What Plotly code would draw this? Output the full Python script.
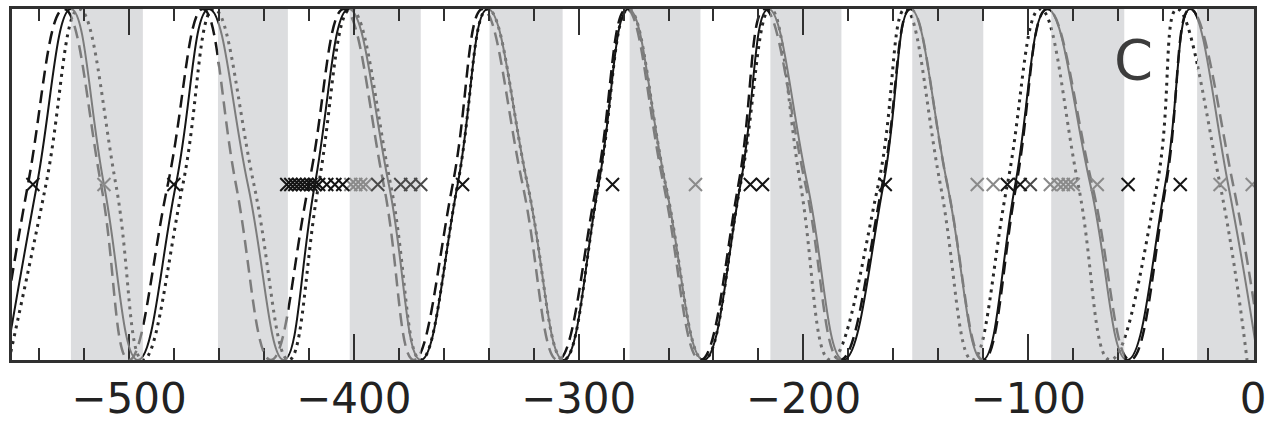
import plotly.graph_objects as go

# ---------------- data ----------------
# Extremum positions (alternating trough / peak) and zero crossings between them
SOLID_EXT_X = [-554.7, -525.8, -496.0, -464.4, -431.1, -402.2, -370.2, -340.4, -306.7,
               -277.8, -244.4, -215.6, -182.2, -152.4, -120.4, -91.6, -56.0, -28.0, 2.2]
SOLID_EXT_Y = [-1, 1, -1, 1, -1, 1, -1, 1, -1, 1, -1, 1, -1, 1, -1, 1, -1, 1, -1]
SOLID_ZERO_X = [-540.9, -511.1, -479.1, -447.1, -417.3, -384.4, -353.8, -322.7, -291.1,
                -261.3, -228.0, -198.2, -164.4, -136.0, -105.8, -72.4, -39.1, -11.1]

DASH_EXT_X = [-557.8, -528.9, -500.0, -467.1, -436.9, -404.4, -373.3, -342.7, -309.3,
              -278.7, -245.8, -217.3, -183.6, -152.4, -120.0, -91.6, -54.7, -28.0, 4.0]
DASH_EXT_Y = [-1, 1, -1, 1, -1, 1, -1, 1, -1, 1, -1, 1, -1, 1, -1, 1, -1, 1, -1]
DASH_ZERO_X = [-544.9, -512.4, -482.7, -452.4, -420.0, -386.7, -356.0, -324.9, -292.0,
               -262.2, -228.9, -199.1, -164.9, -136.0, -105.3, -71.6, -38.7, -8.9]

DOT_EXT_X = [-553.3, -522.2, -493.8, -462.2, -428.9, -401.3, -370.2, -340.4, -306.7,
             -277.8, -244.4, -214.7, -188.0, -154.7, -124.9, -94.7, -63.6, -33.8, -2.7]
DOT_EXT_Y = [-1, 1, -1, 1, -1, 1, -1, 1, -1, 1, -1, 1, -1, 1, -1, 1, -1, 1, -1]
DOT_ZERO_X = [-536.9, -505.8, -476.0, -444.4, -415.6, -383.6, -353.8, -322.7, -291.1,
              -261.3, -228.0, -201.3, -166.7, -139.1, -109.3, -77.8, -42.7, -14.7]

# Shaded (declining-phase) intervals
BAND_START = [-525.8, -460.4, -401.8, -339.6, -277.3, -214.7, -151.6, -89.8, -24.9]
BAND_END = [-493.8, -429.3, -370.2, -307.1, -245.8, -183.1, -120.0, -57.3, 3.0]

# Event markers on the zero line
EVENT_BLACK_X = [-542.7, -480.0, -429.8, -428.0, -426.2, -424.4, -422.7, -420.9, -419.1,
                 -417.3, -415.6, -412.0, -408.4, -404.9, -351.6, -284.9, -223.6, -218.2,
                 -163.6, -109.3, -103.6, -55.6, -32.4]
EVENT_DARK_X = [-389.3, -379.1, -374.7, -370.2, -99.1]
EVENT_GRAY_X = [-511.1, -401.3, -399.1, -396.9, -394.7, -248.0, -122.7, -115.6, -90.2,
                -86.7, -84.4, -82.2, -80.0, -69.3, -14.7, -0.4]

PANEL_LABEL = "C"
X_TICKS = [-500, -400, -300, -200, -100, 0]

# ---------------- styling / layout constants ----------------
XMIN, XMAX = -552.0, 0.4
BLACK = "#151515"
GRAY = "#7c7c7c"
DOT_BLACK = "#262626"
DOT_GRAY = "#707070"
BAND = "#dcdddf"
FRAME = "#303030"
CLEAR = "rgba(0,0,0,0)"


def full_curve(ext_x, ext_y, zero_x):
    xs, ys = [], []
    for i in range(len(ext_x)):
        xs.append(ext_x[i])
        ys.append(ext_y[i])
        if i < len(zero_x):
            xs.append(zero_x[i])
            ys.append(0)
    return xs, ys


curves = [
    (full_curve(DOT_EXT_X, DOT_EXT_Y, DOT_ZERO_X), dict(width=3, dash="3px,5px"), DOT_BLACK, DOT_GRAY),
    (full_curve(DASH_EXT_X, DASH_EXT_Y, DASH_ZERO_X), dict(width=2.5, dash="13px,7px"), BLACK, GRAY),
    (full_curve(SOLID_EXT_X, SOLID_EXT_Y, SOLID_ZERO_X), dict(width=2), BLACK, GRAY),
]

# phase intervals: white (rising) and shaded (declining)
intervals = []
prev = XMIN
for s, e in zip(BAND_START, BAND_END):
    intervals.append((prev, s, False))
    intervals.append((s, min(e, XMAX), True))
    prev = e
if prev < XMAX:
    intervals.append((prev, XMAX, False))

fig = go.Figure()

span = XMAX - XMIN
axis_defs = {}
for k, (a, b, shaded) in enumerate(intervals):
    n = k + 2
    d0 = max(0.0, (a - XMIN) / span)
    d1 = min(1.0, (b - XMIN) / span)
    axis_defs[f"xaxis{n}"] = dict(domain=[d0, d1], range=[a, b], visible=False,
                                  anchor="y", showgrid=False, zeroline=False,
                                  fixedrange=True, automargin=False)
    for (cx, cy), st, c_rise, c_fall in curves:
        fig.add_trace(go.Scatter(x=cx, y=cy, mode="lines", xaxis=f"x{n}", yaxis="y",
                                 line=dict(color=c_fall if shaded else c_rise,
                                           shape="spline", smoothing=1.3, **st),
                                 hoverinfo="skip", showlegend=False))

# full-width axis on top of the curves: event markers and mirrored ticks
top_n = len(intervals) + 2
axis_defs[f"xaxis{top_n}"] = dict(
    domain=[0, 1], side="top", anchor="y", range=[XMIN, XMAX], tickvals=X_TICKS,
    ticks="inside", ticklen=26, tickwidth=2, tickcolor=FRAME, showticklabels=False,
    showline=False, showgrid=False, zeroline=False, automargin=False,
    minor=dict(dtick=20, tick0=0, ticks="inside", ticklen=12, tickwidth=2,
               tickcolor=FRAME, showgrid=False),
)
for xs, col in [(EVENT_GRAY_X, "#8a8a8a"), (EVENT_DARK_X, "#4a4a4a"), (EVENT_BLACK_X, BLACK)]:
    fig.add_trace(go.Scatter(x=xs, y=[0] * len(xs), mode="markers",
                             xaxis=f"x{top_n}", yaxis="y",
                             marker=dict(symbol="x-thin", size=13,
                                         line=dict(color=col, width=2)),
                             hoverinfo="skip", showlegend=False))

for s, e in zip(BAND_START, BAND_END):
    fig.add_vrect(x0=s, x1=e, fillcolor=BAND, line_width=0, layer="below")

fig.add_annotation(x=-53.3, y=0.71, xref="x", yref="y", text=PANEL_LABEL,
                   showarrow=False,
                   font=dict(family="DejaVu Sans", size=56, color="#3c3c3c"))

fig.update_layout(
    width=1268, height=426,
    margin=dict(l=12, r=14, t=9, b=66, autoexpand=False),
    paper_bgcolor="white", plot_bgcolor=CLEAR,
    showlegend=False,
    **axis_defs,
)
fig.update_layout(xaxis=dict(
    range=[XMIN, XMAX], tickvals=X_TICKS, ticks="inside", ticklen=26, tickwidth=2,
    tickcolor=FRAME, showline=True, linecolor=FRAME, linewidth=2.5, mirror=True,
    showgrid=False, zeroline=False, automargin=False,
    tickfont=dict(family="DejaVu Sans", size=42, color="#222222"),
    minor=dict(dtick=20, tick0=0, ticks="inside", ticklen=12, tickwidth=2,
               tickcolor=FRAME, showgrid=False),
))
fig.update_layout(yaxis=dict(
    range=[-1, 1], showticklabels=False, ticks="", showline=True, linecolor=FRAME,
    linewidth=2.5, mirror=True, showgrid=False, zeroline=False, anchor="x",
    automargin=False,
))

fig.write_html("out.html")
